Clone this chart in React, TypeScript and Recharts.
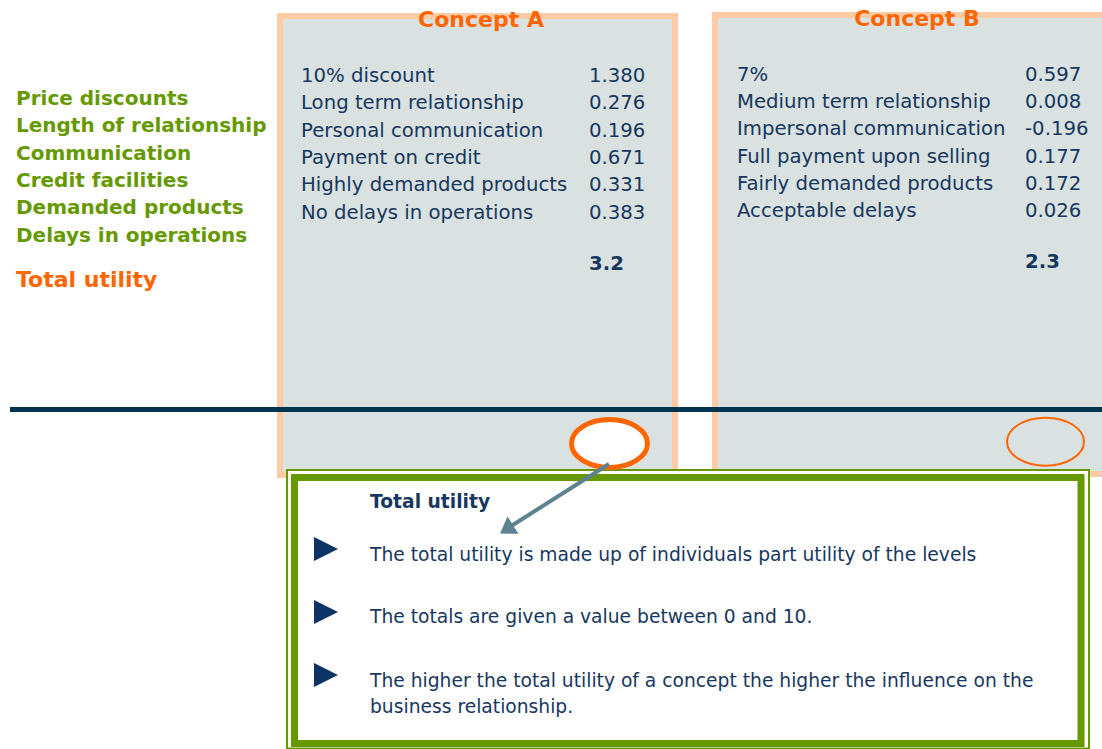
import React from "react";
import { ComposedChart, XAxis, YAxis, Customized } from "recharts";

// ---- data ----
const attributes = [
  "Price discounts",
  "Length of relationship",
  "Communication",
  "Credit facilities",
  "Demanded products",
  "Delays in operations",
];
const totalLabel = "Total utility";

const conceptNames = ["Concept A", "Concept B"];
const conceptALevels = [
  "10% discount",
  "Long term relationship",
  "Personal communication",
  "Payment on credit",
  "Highly demanded products",
  "No delays in operations",
];
const conceptAValues = ["1.380", "0.276", "0.196", "0.671", "0.331", "0.383"];
const conceptBLevels = [
  "7%",
  "Medium term relationship",
  "Impersonal communication",
  "Full payment upon selling",
  "Fairly demanded products",
  "Acceptable delays",
];
const conceptBValues = ["0.597", "0.008", "-0.196", "0.177", "0.172", "0.026"];
const conceptTotals = ["3.2", "2.3"];

const noteTitle = "Total utility";
const bulletLines = [
  ["The total utility is made up of individuals part utility of the levels"],
  ["The totals are given a value between 0 and 10."],
  [
    "The higher the total utility of a concept the higher the influence on the",
    "business relationship.",
  ],
];

// ---- styles ----
const W = 1102;
const H = 749;
const FONT = "'DejaVu Sans', Verdana, sans-serif";
const NAVY = "#17375E";
const GREEN = "#669900";
const ORANGE = "#FF6600";
const PEACH = "#FFCBA4";
const BOXFILL = "#D9E1E1";

const Slide = () => {
  const rowStep = 27.35;
  const bulletBase = [561, 623, 687];
  const bulletTri = [549, 612, 675];
  return (
    <g>
      {/* concept boxes */}
      <rect x={280} y={16} width={395} height={459} fill={BOXFILL} stroke={PEACH} strokeWidth={6} />
      <rect x={715} y={15} width={400} height={459} fill={BOXFILL} stroke={PEACH} strokeWidth={6} />

      {/* titles */}
      <text x={481} y={27} textAnchor="middle" fontFamily={FONT} fontWeight="bold" fontSize={22} fill={ORANGE}>
        {conceptNames[0]}
      </text>
      <text x={917} y={26} textAnchor="middle" fontFamily={FONT} fontWeight="bold" fontSize={22} fill={ORANGE}>
        {conceptNames[1]}
      </text>

      {/* left attribute labels */}
      {attributes.map((a, i) => (
        <text key={a} x={16} y={105 + i * rowStep} fontFamily={FONT} fontWeight="bold" fontSize={20} fill={GREEN}>
          {a}
        </text>
      ))}
      <text x={16} y={287} fontFamily={FONT} fontWeight="bold" fontSize={22} fill={ORANGE}>
        {totalLabel}
      </text>

      {/* concept A rows */}
      {conceptALevels.map((l, i) => (
        <g key={l}>
          <text x={301} y={82 + i * rowStep} fontFamily={FONT} fontSize={19.7} fill={NAVY}>
            {l}
          </text>
          <text x={589} y={82 + i * rowStep} fontFamily={FONT} fontSize={19.7} fill={NAVY}>
            {conceptAValues[i]}
          </text>
        </g>
      ))}
      <text x={589} y={270} fontFamily={FONT} fontWeight="bold" fontSize={19.7} fill={NAVY}>
        {conceptTotals[0]}
      </text>

      {/* concept B rows */}
      {conceptBLevels.map((l, i) => (
        <g key={l}>
          <text x={737} y={80.5 + i * rowStep} fontFamily={FONT} fontSize={19.7} fill={NAVY}>
            {l}
          </text>
          <text x={1025} y={80.5 + i * rowStep} fontFamily={FONT} fontSize={19.7} fill={NAVY}>
            {conceptBValues[i]}
          </text>
        </g>
      ))}
      <text x={1025} y={268} fontFamily={FONT} fontWeight="bold" fontSize={19.7} fill={NAVY}>
        {conceptTotals[1]}
      </text>

      {/* separator line */}
      <line x1={10} x2={W} y1={409.5} y2={409.5} stroke="#01354F" strokeWidth={5} />

      {/* ellipse B */}
      <ellipse cx={1045.5} cy={441.7} rx={38.5} ry={24} fill="none" stroke={ORANGE} strokeWidth={2} />

      {/* green note box */}
      <rect x={287} y={470} width={802} height={278.5} fill="#FFFFFF" stroke={GREEN} strokeWidth={2} />
      <rect x={294.5} y={477.5} width={786.5} height={266} fill="#FFFFFF" stroke={GREEN} strokeWidth={7} />

      {/* ellipse A */}
      <ellipse cx={609.5} cy={443.5} rx={38} ry={24} fill="#FFFFFF" stroke={ORANGE} strokeWidth={5} />

      {/* note text */}
      <text x={370} y={507.5} fontFamily={FONT} fontWeight="bold" fontSize={18.7} fill={NAVY}>
        {noteTitle}
      </text>
      {bulletLines.map((lines, i) => (
        <g key={i}>
          <polygon
            points={`314,${bulletTri[i] - 12} 338,${bulletTri[i]} 314,${bulletTri[i] + 12}`}
            fill="#0D3266"
          />
          {lines.map((t, j) => (
            <text key={j} x={370} y={bulletBase[i] + j * 26} fontFamily={FONT} fontSize={18.7} fill={NAVY}>
              {t}
            </text>
          ))}
        </g>
      ))}

      {/* arrow */}
      <line x1={609} y1={464} x2={512} y2={525.5} stroke="#5F8290" strokeWidth={4} />
      <polygon points="500,533.5 507.5,516.5 518.5,533.8" fill="#5F8290" />
    </g>
  );
};

export default function App() {
  return (
    <div style={{ position: "absolute", left: 0, top: 0, width: W, height: H, background: "#fff" }}>
      <ComposedChart width={W} height={H} margin={{ top: 0, right: 0, bottom: 0, left: 0 }} data={[]}>
        <XAxis type="number" dataKey="x" domain={[0, W]} hide />
        <YAxis type="number" dataKey="y" domain={[0, H]} reversed hide />
        <Customized component={Slide} />
      </ComposedChart>
    </div>
  );
}
